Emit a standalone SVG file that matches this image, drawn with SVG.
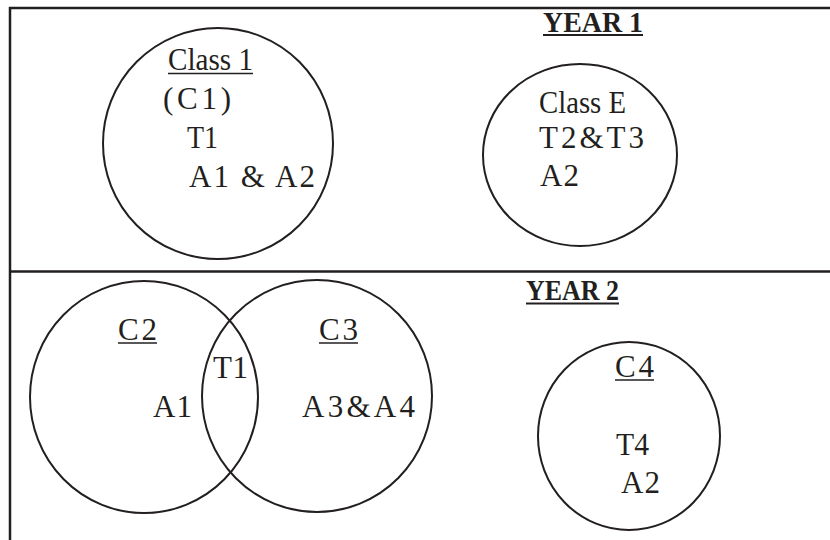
<svg xmlns="http://www.w3.org/2000/svg" width="830" height="540" viewBox="0 0 830 540">
  <style>
    .frame { stroke: #231f20; stroke-width: 2.5; fill: none; }
    .set { stroke: #231f20; stroke-width: 2; fill: none; }
    .lbl { font-family: "Liberation Serif", "DejaVu Serif", serif; font-size: 31px; fill: #231f20; }
    .head { font-family: "Liberation Serif", "DejaVu Serif", serif; font-size: 29px; font-weight: bold; fill: #231f20; }
    .ul { stroke: #231f20; stroke-width: 1.5; }
    .ulh { stroke: #231f20; stroke-width: 2; }
  </style>

  <rect width="830" height="540" fill="#ffffff"/>

  <!-- page frame and year divider -->
  <g id="frame">
    <line class="frame" x1="9" y1="8" x2="830" y2="8"/>
    <line class="frame" x1="10" y1="7" x2="10" y2="540"/>
    <line class="frame" x1="9" y1="271.5" x2="830" y2="271.5"/>
  </g>

  <!-- year headings -->
  <g id="year1">
    <text class="head" x="543" y="32" textLength="100" lengthAdjust="spacingAndGlyphs">YEAR 1</text>
    <line class="ulh" x1="543" y1="35" x2="643" y2="35"/>
  </g>
  <g id="year2">
    <text class="head" x="526" y="300" textLength="93" lengthAdjust="spacingAndGlyphs">YEAR 2</text>
    <line class="ulh" x1="526" y1="303.5" x2="619" y2="303.5"/>
  </g>

  <!-- Year 1 sets -->
  <g id="class1">
    <ellipse class="set" cx="218" cy="143.5" rx="115" ry="115.5"/>
    <text class="lbl" x="168" y="70" textLength="85" lengthAdjust="spacingAndGlyphs">Class 1</text>
    <line class="ul" x1="168" y1="73.5" x2="253" y2="73.5"/>
    <text class="lbl" x="163" y="109" textLength="68" lengthAdjust="spacing">(C1)</text>
    <text class="lbl" x="187" y="148" textLength="31" lengthAdjust="spacingAndGlyphs">T1</text>
    <text class="lbl" x="189" y="187" textLength="126" lengthAdjust="spacing">A1 &amp; A2</text>
  </g>

  <g id="classE">
    <ellipse class="set" cx="580" cy="155" rx="97" ry="91"/>
    <text class="lbl" x="539" y="113" textLength="87" lengthAdjust="spacingAndGlyphs">Class E</text>
    <text class="lbl" x="539" y="148" textLength="105" lengthAdjust="spacing">T2&amp;T3</text>
    <text class="lbl" x="540" y="186" textLength="39" lengthAdjust="spacing">A2</text>
  </g>

  <!-- Year 2 sets -->
  <g id="c2">
    <ellipse class="set" cx="144" cy="397" rx="114" ry="116"/>
    <text class="lbl" x="118" y="340" textLength="39" lengthAdjust="spacing">C2</text>
    <line class="ul" x1="118" y1="343" x2="157" y2="343"/>
    <text class="lbl" x="153" y="417" textLength="39" lengthAdjust="spacing">A1</text>
  </g>

  <g id="c3">
    <ellipse class="set" cx="317" cy="396" rx="115" ry="116"/>
    <text class="lbl" x="319" y="340" textLength="39" lengthAdjust="spacing">C3</text>
    <line class="ul" x1="319" y1="343" x2="358" y2="343"/>
    <text class="lbl" x="302" y="417" textLength="113" lengthAdjust="spacing">A3&amp;A4</text>
  </g>

  <g id="overlap">
    <text class="lbl" x="213" y="378" textLength="35" lengthAdjust="spacing">T1</text>
  </g>

  <g id="c4">
    <ellipse class="set" cx="629" cy="436" rx="91" ry="94"/>
    <text class="lbl" x="615" y="377" textLength="39" lengthAdjust="spacing">C4</text>
    <line class="ul" x1="615" y1="380" x2="654" y2="380"/>
    <text class="lbl" x="616" y="455" textLength="33" lengthAdjust="spacingAndGlyphs">T4</text>
    <text class="lbl" x="621" y="493" textLength="39" lengthAdjust="spacing">A2</text>
  </g>

  <!-- no connectors in this diagram -->
  <g id="connectors"/>
</svg>
